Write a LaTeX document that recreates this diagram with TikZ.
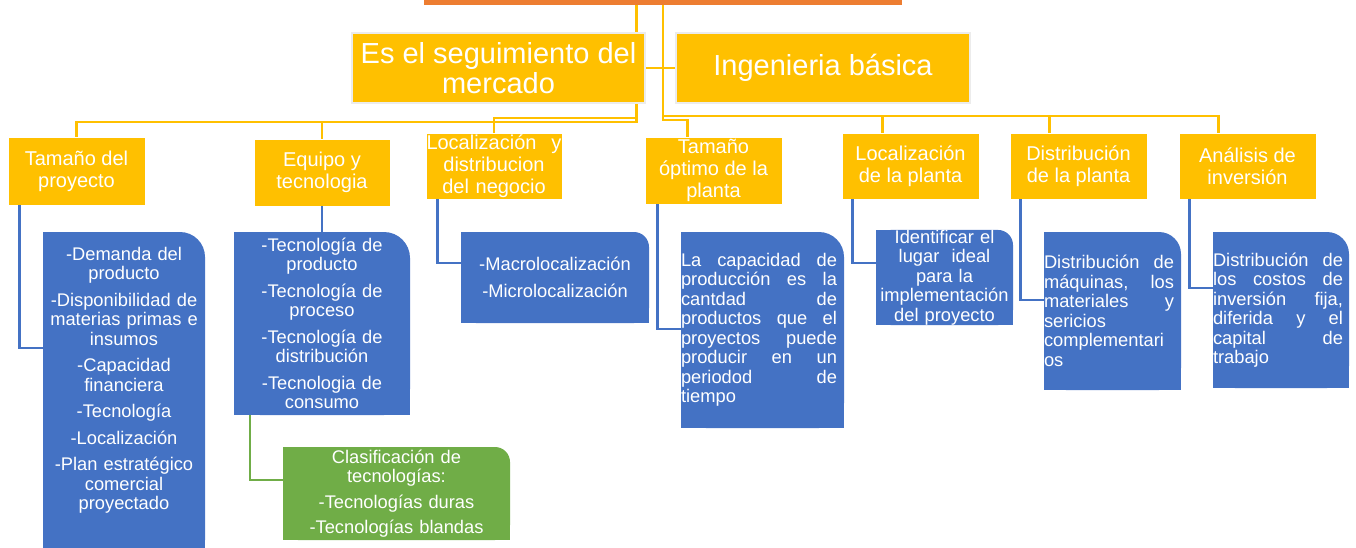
\documentclass[tikz,border=0pt]{standalone}
\usepackage{fontspec}
\setmainfont{Liberation Sans}
\definecolor{gold}{HTML}{FFC000}
\definecolor{blu}{HTML}{4472C4}
\definecolor{grn}{HTML}{70AD47}
\definecolor{orng}{HTML}{ED7D31}
\newcommand{\jl}[1]{\makebox[\jw][s]{\spaceskip=0.28em plus 1fil\relax #1}}

\begin{document}
\begin{tikzpicture}[x=1pt,y=-1pt,
  head/.style={fill=gold,draw=gray!15,line width=2.5pt,inner sep=0pt,text=white,align=center,font=\fontsize{29}{30}\selectfont},
  topic/.style={fill=gold,draw=white,line width=0.6pt,inner sep=0pt,text=white,align=center,font=\fontsize{20}{22}\selectfont},
  tint/.store in=\tint,tint=blu,
  crad/.store in=\crad,crad=24pt,
  jw/.store in=\jw,jw=130pt,
  card/.style={inner sep=0pt,text=white,align=center,font=\fontsize{18.3}{19.5}\selectfont,
    path picture={
      \fill[\tint,rounded corners=\crad] (path picture bounding box.south west) rectangle (path picture bounding box.north east);
      \fill[\tint] (path picture bounding box.south west) rectangle ([xshift=-\crad]path picture bounding box.north east);
      \fill[\tint] (path picture bounding box.south west) rectangle ([yshift=-\crad]path picture bounding box.north east);}},
  yline/.style={draw=gold,line width=2.5pt},
  bline/.style={draw=blu,line width=2.5pt},
  gline/.style={draw=grn,line width=2.5pt}]
\useasboundingbox (0,0) rectangle (1356,548);

\node[fill=orng,inner sep=0pt,minimum width=478pt,minimum height=30pt] (root) at (663,-10) {};

\node[head,minimum width=293pt,minimum height=70pt] (merc) at (498.5,68) {Es el seguimiento del\\mercado};
\node[head,minimum width=294pt,minimum height=70pt] (ingen) at (823,68) {Ingenieria básica};

\node[topic,minimum width=137pt,minimum height=68pt] (size) at (76.5,171) {Tamaño del\\proyecto};
\node[topic,minimum width=136pt,minimum height=67pt] (equip) at (322,172.5) {Equipo y\\tecnologia};
\node[topic,minimum width=136pt,minimum height=66pt,text width=136pt,jw=135pt] (locneg) at (494,166) {\jl{Localización y}\\distribucion\\del negocio};
\node[topic,minimum width=137pt,minimum height=67pt] (tamopt) at (713.5,170.5) {Tamaño\\óptimo de la\\planta};
\node[topic,minimum width=137pt,minimum height=66pt] (locpl) at (910.5,166) {Localización\\de la planta};
\node[topic,minimum width=137pt,minimum height=66pt] (distpl) at (1078.5,166) {Distribución\\de la planta};
\node[topic,minimum width=137pt,minimum height=66pt] (analisis) at (1247.5,166) {Análisis de\\inversión};

\node[card,crad=25pt,minimum width=162pt,minimum height=333pt,text width=162pt] (demand) at (124,398.5) {-Demanda del\\producto\\[7pt]-Disponibilidad de\\materias primas e\\insumos\\[7pt]-Capacidad\\financiera\\[7pt]-Tecnología\\[7pt]-Localización\\[7pt]-Plan estratégico\\comercial\\proyectado\\[21pt]\mbox{}};
\node[card,crad=26pt,minimum width=176pt,minimum height=183pt,text width=176pt] (techs) at (322,323.5) {-Tecnología de\\producto\\[7pt]-Tecnología de\\proceso\\[7pt]-Tecnología de\\distribución\\[7pt]-Tecnologia de\\consumo};
\node[card,tint=grn,crad=15pt,minimum width=227pt,minimum height=93pt,text width=227pt] (clasif) at (396.5,493.5) {Clasificación de\\tecnologías:\\[6pt]-Tecnologías duras\\[6pt]-Tecnologías blandas};
\node[card,crad=15pt,minimum width=188pt,minimum height=91pt,text width=188pt] (macro) at (555,277.5) {-Macrolocalización\\[8pt]-Microlocalización};
\node[card,crad=25pt,minimum width=163pt,minimum height=196pt,text width=163pt,align=left,jw=156pt] (capac) at (762.5,330) {\jl{La capacidad de}\\\jl{producción es la}\\\jl{cantdad de}\\\jl{productos que el}\\\jl{proyectos puede}\\\jl{producir en un}\\\jl{periodod de}\\tiempo};
\node[card,crad=15pt,minimum width=137pt,minimum height=91pt,text width=137pt] (ident) at (944.5,277.5) {Identificar el\\lugar\ \ ideal\\para la\\implementación\\del proyecto};
\node[card,crad=22pt,minimum width=137pt,minimum height=158pt,text width=137pt,align=left] (maq) at (1112.5,311) {\jl{Distribución de}\\\jl{máquinas, los}\\\jl{materiales y}\\sericios\\complementari\\os};
\node[card,crad=22pt,minimum width=136pt,minimum height=156pt,text width=136pt,align=left] (costos) at (1281,310) {\jl{Distribución de}\\\jl{los costos de}\\\jl{inversión fija,}\\\jl{diferida y el}\\\jl{capital de}\\trabajo};

\draw[yline] ([xshift=-10pt]merc.north east) -- ([xshift=-10pt]merc.north east |- root.south);
\draw[yline] (merc.east) -- (ingen.west);
\draw[yline] (root.south) -- ++(0,115) -| ([xshift=43pt]tamopt.north west);
\draw[yline] (root.south) -- ++(0,111) -| ([xshift=41pt]locpl.north west);
\draw[yline] (root.south) -- ++(0,111) -| ([xshift=40pt]distpl.north west);
\draw[yline] (root.south) -- ++(0,111) -| ([xshift=40pt]analisis.north west);
\draw[yline] ([xshift=-10pt]merc.south east) -- ++(0,18) -| (size.north);
\draw[yline] ([xshift=-10pt]merc.south east) -- ++(0,18) -| (equip.north);
\draw[yline] ([xshift=-10pt]merc.south east) -- ++(0,14) -| (locneg.north);

\draw[bline] ([xshift=12pt]size.south west) |- ([yshift=50.5pt]demand.west);
\draw[bline] (equip.south) -- (techs.north);
\draw[gline] ([xshift=16pt]techs.south west) |- ([yshift=13.5pt]clasif.west);
\draw[bline] ([xshift=12pt]locneg.south west) |- ([yshift=14.5pt]macro.west);
\draw[bline] ([xshift=13pt]tamopt.south west) |- ([yshift=1pt]capac.west);
\draw[bline] ([xshift=11pt]locpl.south west) |- ([yshift=14.5pt]ident.west);
\draw[bline] ([xshift=11pt]distpl.south west) |- ([yshift=11pt]maq.west);
\draw[bline] ([xshift=11pt]analisis.south west) |- ([yshift=22pt]costos.west);
\end{tikzpicture}
\end{document}
